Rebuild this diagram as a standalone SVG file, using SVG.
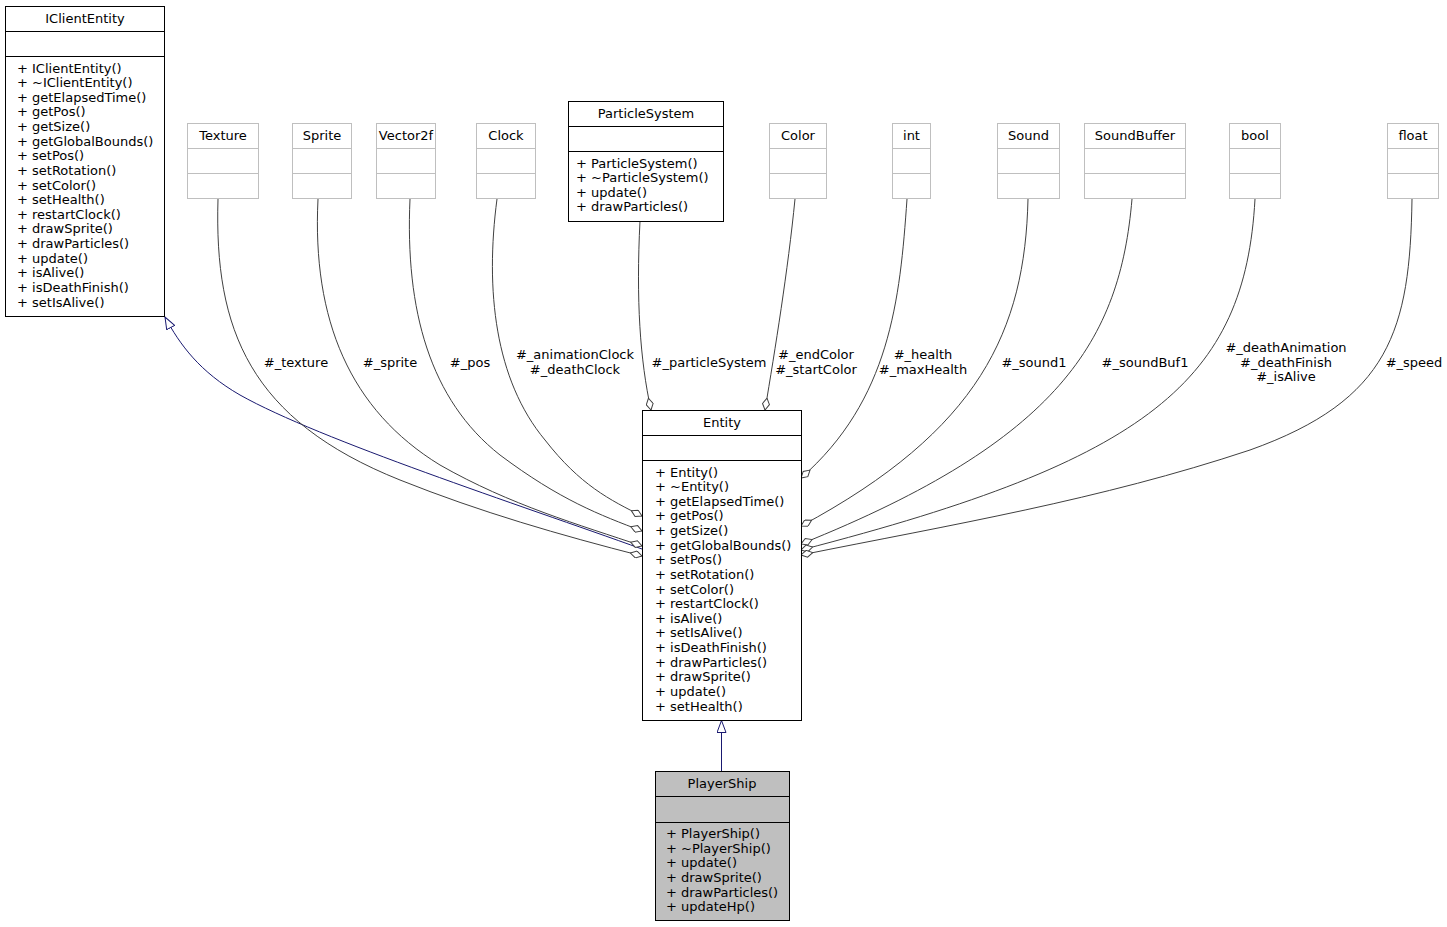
<svg xmlns="http://www.w3.org/2000/svg" width="1447" height="927" viewBox="0 0 1447 927">
<style>
text{font-family:"DejaVu Sans","Liberation Sans",sans-serif;font-size:13px;fill:#000}
.t{text-anchor:middle}
.lb{text-anchor:middle}
.bx{fill:#fff;stroke:#000;stroke-width:1}
.gx{fill:#fff;stroke:#bfbfbf;stroke-width:1}
.sel{fill:#bfbfbf;stroke:#000;stroke-width:1}
.ag{fill:none;stroke:#404040;stroke-width:1;marker-end:url(#dia)}
.inh{fill:none;stroke:#191970;stroke-width:1;marker-end:url(#tri)}
</style>
<defs>
<marker id="dia" viewBox="0 0 13 8" refX="12.5" refY="4" markerWidth="13" markerHeight="8" orient="auto" markerUnits="userSpaceOnUse"><path d="M0.5,4 L6.5,0.5 L12.5,4 L6.5,7.5 Z" fill="#fff" stroke="#404040"/></marker>
<marker id="tri" viewBox="0 0 13 10" refX="12.5" refY="5" markerWidth="13" markerHeight="10" orient="auto" markerUnits="userSpaceOnUse"><path d="M0.5,0.5 L12.5,5 L0.5,9.5 Z" fill="#fff" stroke="#191970"/></marker>
</defs>
<rect width="1447" height="927" fill="#fff"/>
<g id="connectors">
<path class="inh" d="M642,549 C520,505 320,440 240,395 C200,372 180,345 165,317"/>
<path class="inh" d="M721.5,771 L721.5,720.5"/>
<path class="ag" d="M218,199 C214,330 250,420 400,480 C480,512 560,535 642,556"/>
<path class="ag" d="M318,199 C312,320 350,410 440,465 C510,505 580,525 642,546"/>
<path class="ag" d="M410,199 C405,310 430,400 500,455 C560,500 600,515 642,531"/>
<path class="ag" d="M497,199 C485,290 495,380 545,440 C580,485 610,500 642,516"/>
<path class="ag" d="M640,221 C636,300 640,360 651,410"/>
<path class="ag" d="M795,199 C788,270 775,350 765,410"/>
<path class="ag" d="M907,199 C900,300 890,400 801,478"/>
<path class="ag" d="M1028,199 C1025,330 980,430 801,526"/>
<path class="ag" d="M1132,199 C1120,340 1060,440 801,544"/>
<path class="ag" d="M1255,199 C1245,380 1150,460 801,550"/>
<path class="ag" d="M1412,199 C1410,330 1390,400 1250,450 C1100,500 950,525 801,555"/>
<text class="lb" x="296" y="367">#_texture</text>
<text class="lb" x="390" y="367">#_sprite</text>
<text class="lb" x="470" y="367">#_pos</text>
<text class="lb" x="575" y="359">#_animationClock</text>
<text class="lb" x="575" y="374">#_deathClock</text>
<text class="lb" x="709" y="367">#_particleSystem</text>
<text class="lb" x="816" y="359">#_endColor</text>
<text class="lb" x="816" y="374">#_startColor</text>
<text class="lb" x="923" y="359">#_health</text>
<text class="lb" x="923" y="374">#_maxHealth</text>
<text class="lb" x="1034" y="367">#_sound1</text>
<text class="lb" x="1145" y="367">#_soundBuf1</text>
<text class="lb" x="1286" y="352">#_deathAnimation</text>
<text class="lb" x="1286" y="367">#_deathFinish</text>
<text class="lb" x="1286" y="381">#_isAlive</text>
<text class="lb" x="1414" y="367">#_speed</text>
</g>
<g id="IClientEntity">
<rect class="bx" x="5.5" y="6.5" width="159" height="310"/>
<path d="M5.5,31.5 H164.5 M5.5,56.5 H164.5" stroke="#000"/>
<text class="t" x="85" y="22.5">IClientEntity</text>
<text x="17" y="72.5">+ IClientEntity()</text>
<text x="17" y="87.1">+ ~IClientEntity()</text>
<text x="17" y="101.8">+ getElapsedTime()</text>
<text x="17" y="116.4">+ getPos()</text>
<text x="17" y="131">+ getSize()</text>
<text x="17" y="145.6">+ getGlobalBounds()</text>
<text x="17" y="160.3">+ setPos()</text>
<text x="17" y="174.9">+ setRotation()</text>
<text x="17" y="189.5">+ setColor()</text>
<text x="17" y="204.1">+ setHealth()</text>
<text x="17" y="218.8">+ restartClock()</text>
<text x="17" y="233.4">+ drawSprite()</text>
<text x="17" y="248">+ drawParticles()</text>
<text x="17" y="262.6">+ update()</text>
<text x="17" y="277.3">+ isAlive()</text>
<text x="17" y="291.9">+ isDeathFinish()</text>
<text x="17" y="306.5">+ setIsAlive()</text>
</g>
<g id="Texture">
<rect class="gx" x="187.5" y="123.5" width="71" height="75"/>
<path d="M187.5,148.5 H258.5 M187.5,173.5 H258.5" stroke="#bfbfbf"/>
<text class="t" x="223" y="139.5">Texture</text>
</g>
<g id="Sprite">
<rect class="gx" x="292.5" y="123.5" width="59" height="75"/>
<path d="M292.5,148.5 H351.5 M292.5,173.5 H351.5" stroke="#bfbfbf"/>
<text class="t" x="322" y="139.5">Sprite</text>
</g>
<g id="Vector2f">
<rect class="gx" x="376.5" y="123.5" width="59" height="75"/>
<path d="M376.5,148.5 H435.5 M376.5,173.5 H435.5" stroke="#bfbfbf"/>
<text class="t" x="406" y="139.5">Vector2f</text>
</g>
<g id="Clock">
<rect class="gx" x="476.5" y="123.5" width="59" height="75"/>
<path d="M476.5,148.5 H535.5 M476.5,173.5 H535.5" stroke="#bfbfbf"/>
<text class="t" x="506" y="139.5">Clock</text>
</g>
<g id="ParticleSystem">
<rect class="bx" x="568.5" y="101.5" width="155" height="120"/>
<path d="M568.5,126.5 H723.5 M568.5,151.5 H723.5" stroke="#000"/>
<text class="t" x="646" y="117.5">ParticleSystem</text>
<text x="576" y="167.5">+ ParticleSystem()</text>
<text x="576" y="182.1">+ ~ParticleSystem()</text>
<text x="576" y="196.8">+ update()</text>
<text x="576" y="211.4">+ drawParticles()</text>
</g>
<g id="Color">
<rect class="gx" x="769.5" y="123.5" width="57" height="75"/>
<path d="M769.5,148.5 H826.5 M769.5,173.5 H826.5" stroke="#bfbfbf"/>
<text class="t" x="798" y="139.5">Color</text>
</g>
<g id="int">
<rect class="gx" x="892.5" y="123.5" width="38" height="75"/>
<path d="M892.5,148.5 H930.5 M892.5,173.5 H930.5" stroke="#bfbfbf"/>
<text class="t" x="911.5" y="139.5">int</text>
</g>
<g id="Sound">
<rect class="gx" x="997.5" y="123.5" width="62" height="75"/>
<path d="M997.5,148.5 H1059.5 M997.5,173.5 H1059.5" stroke="#bfbfbf"/>
<text class="t" x="1028.5" y="139.5">Sound</text>
</g>
<g id="SoundBuffer">
<rect class="gx" x="1084.5" y="123.5" width="101" height="75"/>
<path d="M1084.5,148.5 H1185.5 M1084.5,173.5 H1185.5" stroke="#bfbfbf"/>
<text class="t" x="1135" y="139.5">SoundBuffer</text>
</g>
<g id="bool">
<rect class="gx" x="1229.5" y="123.5" width="51" height="75"/>
<path d="M1229.5,148.5 H1280.5 M1229.5,173.5 H1280.5" stroke="#bfbfbf"/>
<text class="t" x="1255" y="139.5">bool</text>
</g>
<g id="float">
<rect class="gx" x="1387.5" y="123.5" width="51" height="75"/>
<path d="M1387.5,148.5 H1438.5 M1387.5,173.5 H1438.5" stroke="#bfbfbf"/>
<text class="t" x="1413" y="139.5">float</text>
</g>
<g id="Entity">
<rect class="bx" x="642.5" y="410.5" width="159" height="310"/>
<path d="M642.5,435.5 H801.5 M642.5,460.5 H801.5" stroke="#000"/>
<text class="t" x="722" y="426.5">Entity</text>
<text x="655" y="476.5">+ Entity()</text>
<text x="655" y="491.1">+ ~Entity()</text>
<text x="655" y="505.8">+ getElapsedTime()</text>
<text x="655" y="520.4">+ getPos()</text>
<text x="655" y="535">+ getSize()</text>
<text x="655" y="549.6">+ getGlobalBounds()</text>
<text x="655" y="564.3">+ setPos()</text>
<text x="655" y="578.9">+ setRotation()</text>
<text x="655" y="593.5">+ setColor()</text>
<text x="655" y="608.1">+ restartClock()</text>
<text x="655" y="622.8">+ isAlive()</text>
<text x="655" y="637.4">+ setIsAlive()</text>
<text x="655" y="652">+ isDeathFinish()</text>
<text x="655" y="666.6">+ drawParticles()</text>
<text x="655" y="681.3">+ drawSprite()</text>
<text x="655" y="695.9">+ update()</text>
<text x="655" y="710.5">+ setHealth()</text>
</g>
<g id="PlayerShip">
<rect class="sel" x="655.5" y="771.5" width="134" height="149"/>
<path d="M655.5,796.5 H789.5 M655.5,822.5 H789.5" stroke="#000"/>
<text class="t" x="722" y="787.5">PlayerShip</text>
<text x="666" y="838">+ PlayerShip()</text>
<text x="666" y="852.6">+ ~PlayerShip()</text>
<text x="666" y="867.3">+ update()</text>
<text x="666" y="881.9">+ drawSprite()</text>
<text x="666" y="896.5">+ drawParticles()</text>
<text x="666" y="911.1">+ updateHp()</text>
</g>
</svg>
